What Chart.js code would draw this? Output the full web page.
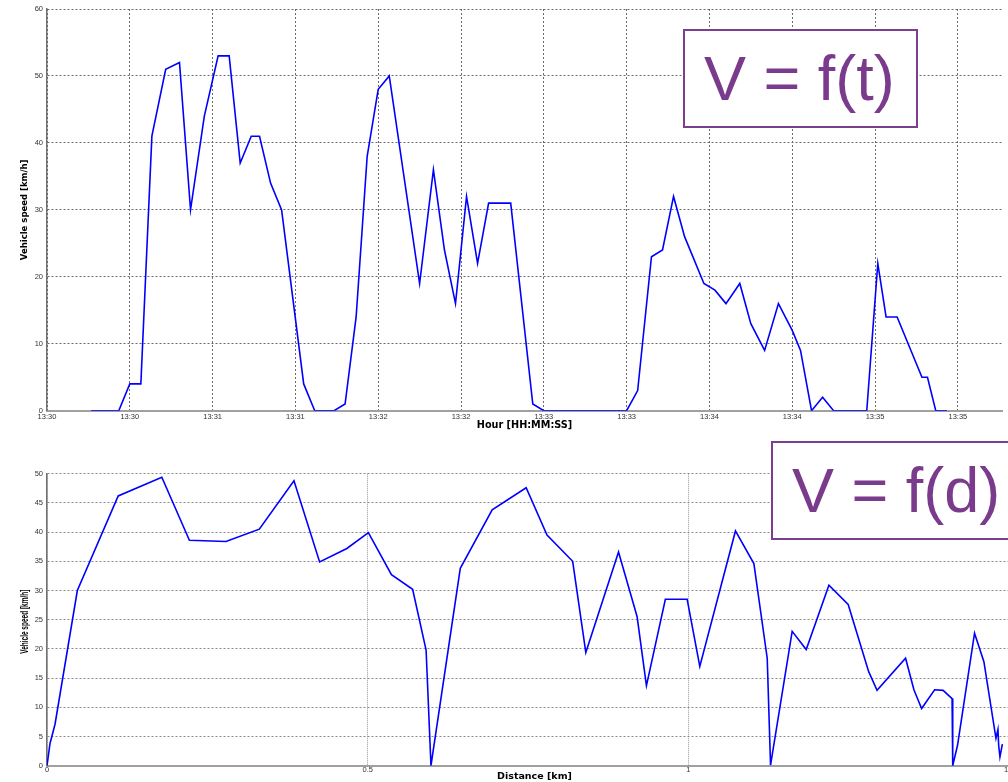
<!DOCTYPE html>
<html>
<head>
<meta charset="utf-8">
<title>Vehicle speed</title>
<script src="https://cdn.jsdelivr.net/npm/chart.js@4.4.1/dist/chart.umd.min.js"></script>
<style>
  html, body { margin: 0; padding: 0; background: #ffffff; }
  #wrap { position: relative; width: 1008px; height: 782px; overflow: hidden; background: #ffffff; }
  canvas { position: absolute; left: 0; }
  .tag {
    position: absolute; box-sizing: border-box; border: 2px solid #7b3f8e; background: #ffffff;
    display: flex; align-items: center; padding-left: 19px;
    font-family: "Liberation Sans", Arial, sans-serif; font-size: 63px; line-height: 63px;
    color: #7a3b8c; white-space: nowrap;
  }
</style>
</head>
<body>
<div id="wrap">
  <canvas id="timeChart" width="1008" height="434" style="top:0"></canvas>
  <canvas id="distChart" width="1024" height="350" style="top:432px"></canvas>
  <div class="tag" style="left:683px;top:29px;width:235px;height:99px;">V = f(t)</div>
  <div class="tag" style="left:771px;top:441px;width:260px;height:99px;">V = f(d)</div>
</div>
<script>
// Speed against clock time: seconds after 13:30:00 and km/h
const timeSeconds = [16, 26, 30, 34, 38, 43, 48, 52, 57, 62, 66, 70, 74, 77, 81, 85, 93, 97, 104, 108,
  112, 116, 120, 124, 135, 140, 144, 148, 152, 156, 160, 168, 176, 180, 210, 214, 219, 223, 227, 231,
  238, 242, 246, 251, 255, 260, 265, 270, 273, 277, 281, 285, 297, 301, 304, 308, 317, 319, 322, 326];
const timeSpeed = [0, 0, 4, 4, 41, 51, 52, 30, 44, 53, 53, 37, 41, 41, 34, 30, 4, 0, 0, 1,
  14, 38, 48, 50, 19, 36, 24, 16, 32, 22, 31, 31, 1, 0, 0, 3, 23, 24, 32, 26,
  19, 18, 16, 19, 13, 9, 16, 12, 9, 0, 2, 0, 0, 22, 14, 14, 5, 5, 0, 0];
const timeTickSeconds = [0, 30, 60, 90, 120, 150, 180, 210, 240, 270, 300, 330];
const timeTickLabels = ['13:30', '13:30', '13:31', '13:31', '13:32', '13:32',
  '13:33', '13:33', '13:34', '13:34', '13:35', '13:35'];

// Speed against distance travelled: km and km/h
const distKm = [0, 0.0047, 0.0125, 0.0473, 0.111, 0.179, 0.222, 0.279, 0.331, 0.385, 0.425, 0.4675,
  0.501, 0.537, 0.570, 0.591, 0.5986, 0.6443, 0.694, 0.747, 0.7795, 0.8195, 0.840, 0.891, 0.920,
  0.9345, 0.964, 0.998, 1.0177, 1.0733, 1.102, 1.1228, 1.128, 1.1617, 1.1836, 1.219, 1.249, 1.281,
  1.294, 1.3385, 1.3515, 1.3635, 1.3838, 1.397, 1.411, 1.412, 1.4195, 1.446, 1.4606, 1.4794, 1.4825,
  1.4836, 1.4856, 1.4894];
const distSpeed = [0, 3.8, 7.1, 30.0, 46.2, 49.4, 38.6, 38.4, 40.5, 48.8, 34.9, 37.2,
  39.9, 32.7, 30.2, 19.8, 0, 33.8, 43.8, 47.6, 39.5, 35.0, 19.4, 36.6, 25.5,
  13.7, 28.5, 28.5, 17.0, 40.2, 34.6, 18.4, 0.1, 23.0, 19.9, 30.9, 27.6, 16.1,
  12.9, 18.4, 13.0, 9.8, 13.0, 12.9, 11.5, 0, 3.5, 22.7, 17.8, 4.7, 6.2,
  3.5, 1.5, 3.7];
const distTickValues = [0, 0.5, 1, 1.5];
const distTickLabels = ['0', '0.5', '1', '1.5'];

const speedTitle = 'Vehicle speed [km/h]';

Chart.defaults.font.family = '"Liberation Sans", Arial, sans-serif';
Chart.defaults.color = '#333333';

const toPoints = (xs, ys) => xs.map((x, i) => ({ x: x, y: ys[i] }));

new Chart(document.getElementById('timeChart'), {
  type: 'line',
  data: {
    datasets: [{
      data: toPoints(timeSeconds, timeSpeed),
      borderColor: '#0000ff',
      borderWidth: 1.6,
      pointRadius: 0,
      tension: 0,
      fill: false
    }]
  },
  options: {
    responsive: false,
    animation: false,
    events: [],
    layout: { padding: { top: 9, right: 6, left: 0, bottom: 0 } },
    plugins: { legend: { display: false }, tooltip: { enabled: false } },
    scales: {
      x: {
        type: 'linear',
        min: 0,
        max: 346,
        afterBuildTicks: (scale) => { scale.ticks = timeTickSeconds.map(v => ({ value: v })); },
        afterFit: (scale) => { scale.height = 23.3; },
        ticks: {
          autoSkip: false, maxRotation: 0, padding: 2,
          font: { size: 7.5 }, color: '#333333',
          callback: (value, index) => timeTickLabels[index]
        },
        grid: { color: '#6a6a6a', lineWidth: 1, drawTicks: false },
        border: { color: '#a0a0a0', width: 2, dash: [2, 2] },
        title: {
          display: true, text: 'Hour [HH:MM:SS]', color: '#000000',
          font: { family: '"DejaVu Sans", sans-serif', size: 9.7, weight: 'bold' },
          padding: { top: 0, bottom: 3 }
        }
      },
      y: {
        min: 0,
        max: 60,
        afterFit: (scale) => { scale.width = 47; },
        ticks: { stepSize: 10, padding: 4, font: { size: 7.5 }, color: '#333333' },
        grid: { color: '#6a6a6a', lineWidth: 1, drawTicks: false },
        border: { color: '#707070', width: 1.5, dash: [2, 2] },
        title: {
          display: true, text: speedTitle, color: '#000000',
          font: { family: '"DejaVu Sans", sans-serif', size: 8.5, weight: 'bold' },
          padding: { top: 20, bottom: 0 }
        }
      }
    }
  }
});

// Rotated, vertically condensed axis title for the distance plot
const condensedYTitle = {
  id: 'condensedYTitle',
  afterDraw(chart, args, opts) {
    const { ctx, chartArea } = chart;
    ctx.save();
    ctx.translate(opts.x, (chartArea.top + chartArea.bottom) / 2 + 2);
    ctx.rotate(-Math.PI / 2);
    ctx.scale(0.65, 1);
    ctx.font = 'bold 10px "Liberation Sans", Arial, sans-serif';
    ctx.fillStyle = '#000000';
    ctx.textAlign = 'center';
    ctx.textBaseline = 'middle';
    ctx.fillText(opts.text, 0, 0);
    ctx.restore();
  }
};

new Chart(document.getElementById('distChart'), {
  type: 'line',
  data: {
    datasets: [{
      data: toPoints(distKm, distSpeed),
      borderColor: '#0000ff',
      borderWidth: 1.6,
      pointRadius: 0,
      tension: 0,
      fill: false
    }]
  },
  plugins: [condensedYTitle],
  options: {
    responsive: false,
    animation: false,
    events: [],
    layout: { padding: { top: 41.7, right: 2, left: 0, bottom: 0 } },
    plugins: {
      legend: { display: false }, tooltip: { enabled: false },
      condensedYTitle: { text: speedTitle, x: 25 }
    },
    scales: {
      x: {
        type: 'linear',
        min: 0,
        max: 1.52,
        afterBuildTicks: (scale) => { scale.ticks = distTickValues.map(v => ({ value: v })); },
        afterFit: (scale) => { scale.height = 16.3; },
        ticks: {
          autoSkip: false, maxRotation: 0, padding: 0,
          font: { size: 7.5 }, color: '#333333',
          callback: (value, index) => distTickLabels[index]
        },
        grid: { color: '#9a9a9a', lineWidth: 1, drawTicks: false },
        border: { color: '#a0a0a0', width: 2, dash: [1, 1] },
        title: {
          display: true, text: 'Distance [km]', color: '#000000',
          font: { family: '"DejaVu Sans", sans-serif', size: 9.5, weight: 'bold' },
          padding: { top: 0, bottom: 0 }
        }
      },
      y: {
        min: 0,
        max: 50,
        afterFit: (scale) => { scale.width = 47; },
        ticks: { stepSize: 5, padding: 4, font: { size: 7.5 }, color: '#333333' },
        grid: { color: '#8a8a8a', lineWidth: 1, drawTicks: false },
        border: { color: '#707070', width: 1.5, dash: [2, 2] },
        title: { display: false }
      }
    }
  }
});
</script>
</body>
</html>
